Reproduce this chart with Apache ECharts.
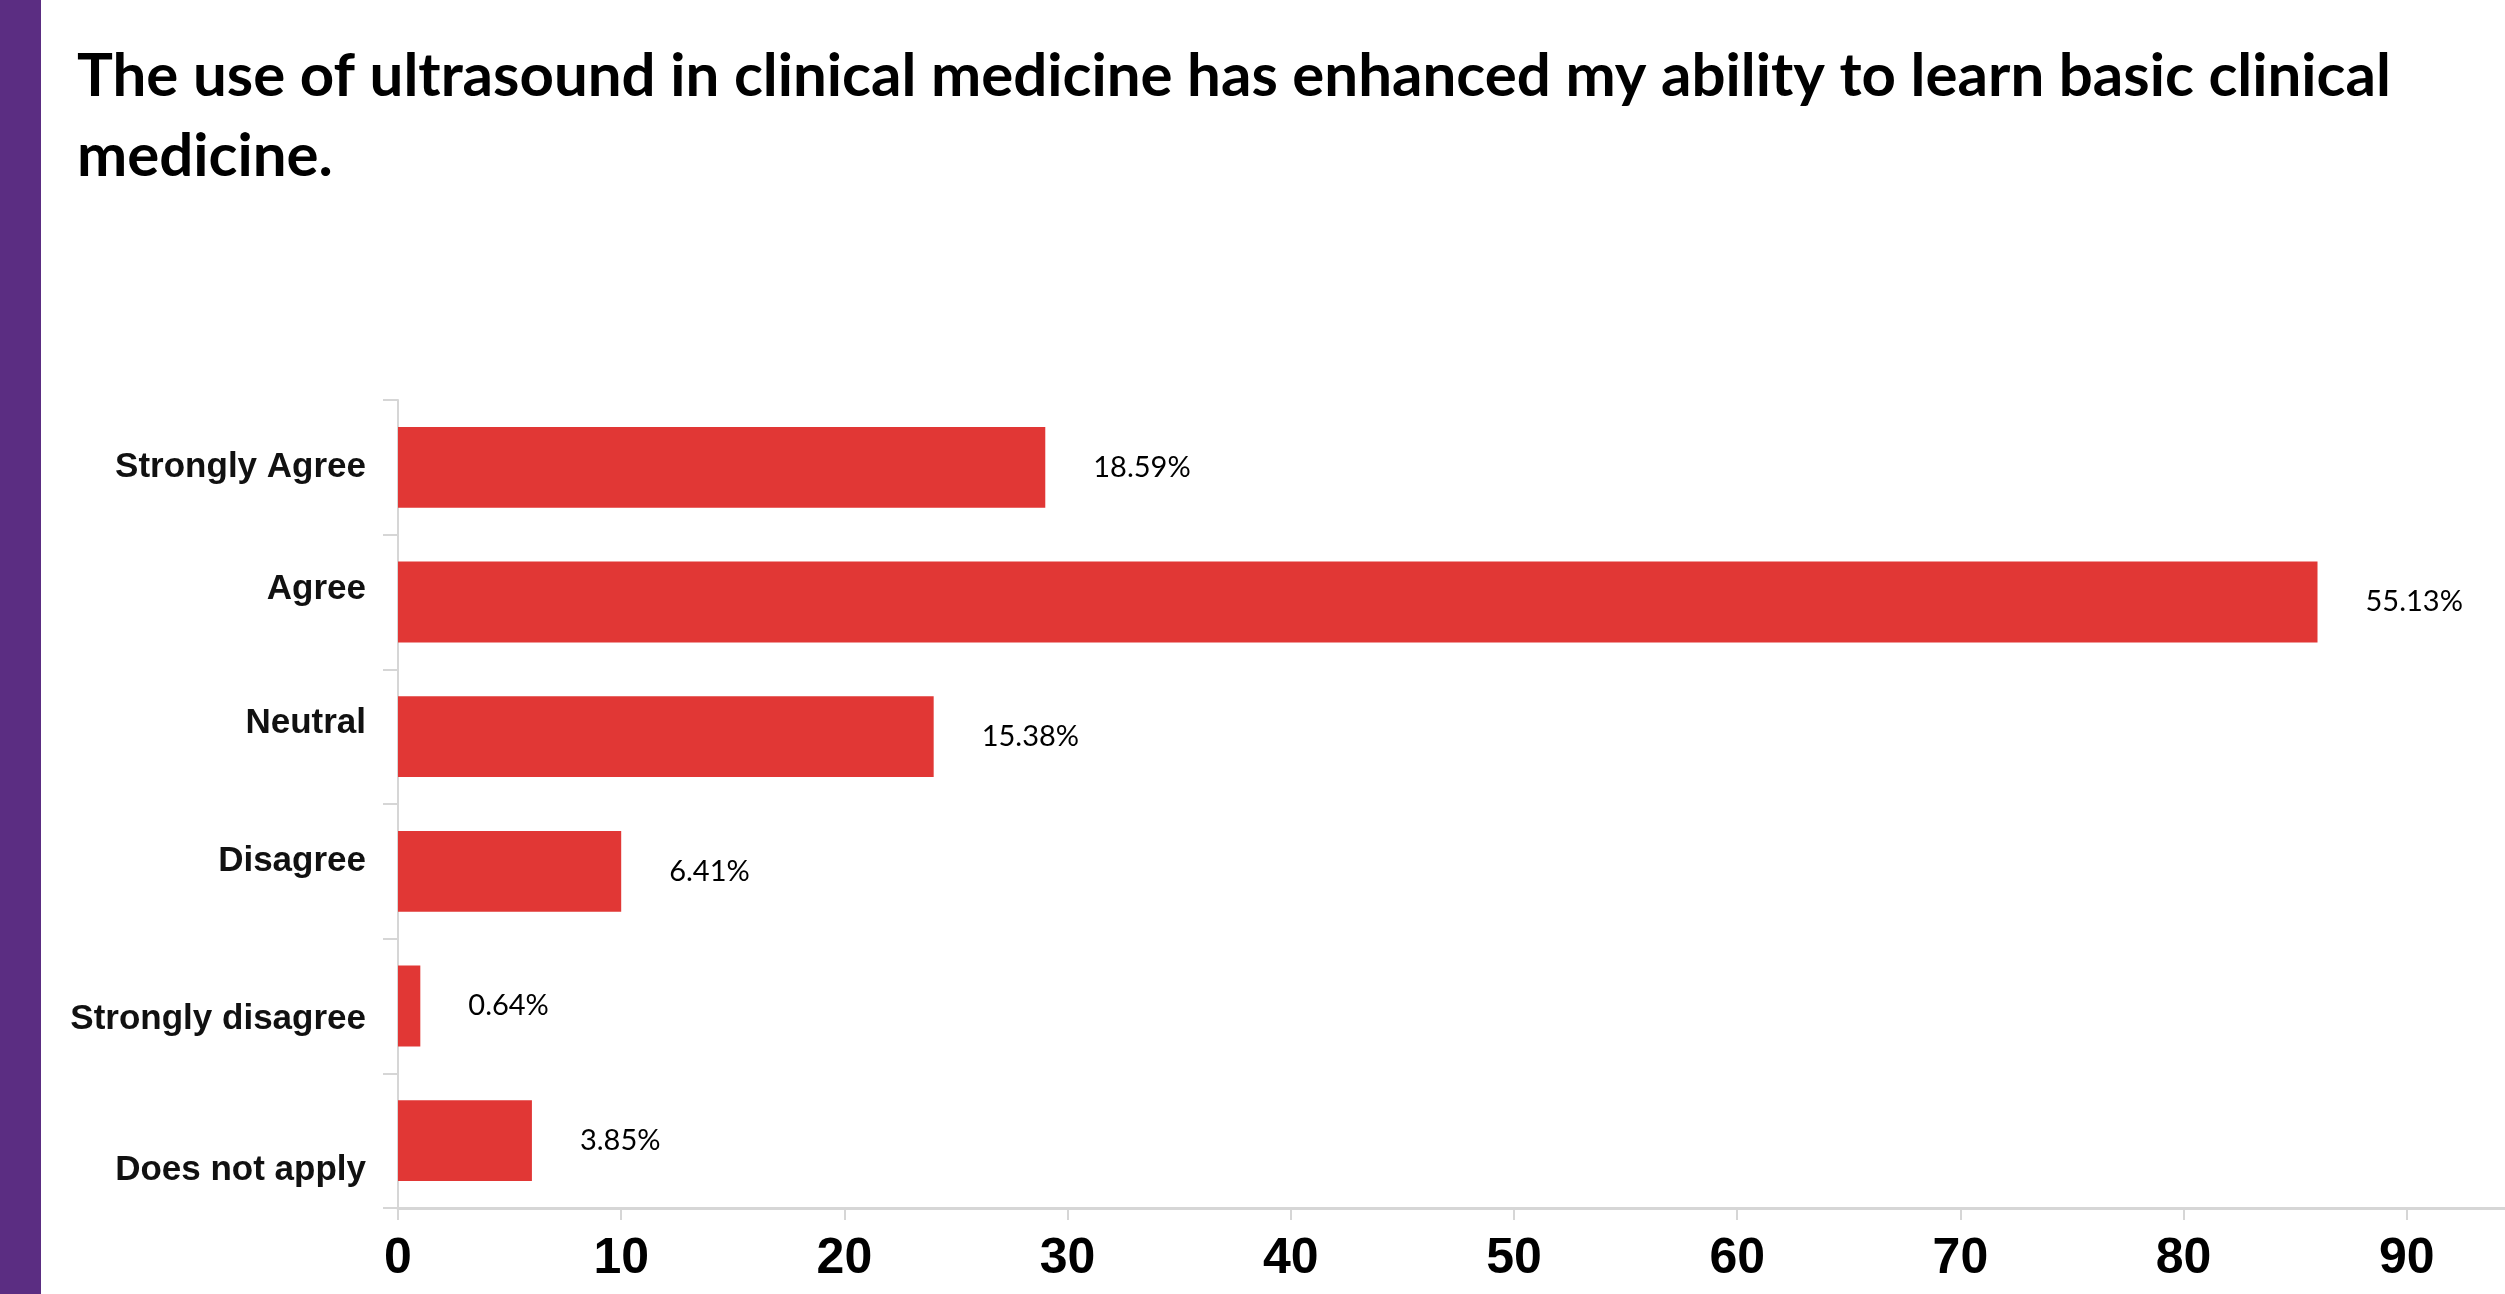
<!DOCTYPE html>
<html>
<head>
<meta charset="utf-8">
<title>Ultrasound in clinical medicine survey</title>
<script src="https://cdn.jsdelivr.net/npm/echarts@6/dist/echarts.min.js"></script>
<style>
  html, body { margin: 0; padding: 0; background: #ffffff; }
  #chart { width: 2505px; height: 1294px; }
</style>
</head>
<body>
<div id="chart"></div>
<script>
// Survey statement shown as the heading
const heading = 'The use of ultrasound in clinical medicine has enhanced my ability to learn basic clinical\nmedicine.';

// Response options, top to bottom
const responses = ['Strongly Agree', 'Agree', 'Neutral', 'Disagree', 'Strongly disagree', 'Does not apply'];

// Number of respondents per option (156 in total)
const counts = [29, 86, 24, 10, 1, 6];

// Share of respondents printed next to each bar
const shares = ['18.59%', '55.13%', '15.38%', '6.41%', '0.64%', '3.85%'];

// Count axis ticks
const countTicks = [0, 10, 20, 30, 40, 50, 60, 70, 80, 90];

// Vertical nudge (px, + is down) of each response label from its row centre
const labelNudge = [0, -13, -13, -10, 13, 30];

const chart = echarts.init(document.getElementById('chart'), null, { renderer: 'canvas' });

const gridColor = '#d6d6d6';

// One rich style per response label so each can sit at its own height
const responseLabelFont = {
  color: '#111111',
  fontFamily: "'Liberation Sans', Arial, sans-serif",
  fontWeight: 'bold',
  fontSize: 35
};
const responseRich = {};
labelNudge.forEach(function (d, i) {
  responseRich['r' + i] = Object.assign({}, responseLabelFont, {
    padding: d >= 0 ? [2 * d, 0, 0, 0] : [0, 0, -2 * d, 0]
  });
});

chart.setOption({
  backgroundColor: '#ffffff',
  animation: false,
  graphic: [{
    type: 'rect',
    left: 0,
    top: 0,
    shape: { width: 41, height: 1294 },
    style: { fill: '#5b2d82' },
    silent: true
  }],
  title: {
    text: heading,
    left: 77,
    top: 37,
    padding: 0,
    textStyle: {
      fontFamily: 'Lato',
      fontWeight: 'bold',
      fontSize: 60,
      lineHeight: 80,
      color: '#000000'
    }
  },
  grid: {
    left: 398,
    right: 0,
    top: 400,
    bottom: 86,
    containLabel: false
  },
  xAxis: {
    type: 'value',
    min: countTicks[0],
    max: 94.4,
    interval: countTicks[1] - countTicks[0],
    splitLine: { show: false },
    axisLine: { show: true, lineStyle: { color: gridColor, width: 3 } },
    axisTick: { show: true, length: 12, lineStyle: { color: gridColor, width: 2 } },
    axisLabel: {
      showMaxLabel: false,
      margin: 26,
      color: '#000000',
      fontFamily: "'Liberation Sans', Arial, sans-serif",
      fontWeight: 'bold',
      fontSize: 50,
      formatter: function (v) { return countTicks.indexOf(v) >= 0 ? String(v) : ''; }
    }
  },
  yAxis: {
    type: 'category',
    inverse: true,
    data: responses,
    axisLine: { show: true, lineStyle: { color: gridColor, width: 2 } },
    axisTick: { show: true, length: 15, lineStyle: { color: gridColor, width: 2 } },
    axisLabel: {
      margin: 32,
      color: '#111111',
      fontFamily: "'Liberation Sans', Arial, sans-serif",
      fontWeight: 'bold',
      fontSize: 35,
      formatter: function (value) {
        return '{r' + responses.indexOf(value) + '|' + value + '}';
      },
      rich: responseRich
    }
  },
  series: [{
    type: 'bar',
    data: counts,
    barWidth: '60%',
    itemStyle: { color: '#e13735' },
    label: {
      show: true,
      position: 'right',
      distance: 48,
      color: '#000000',
      fontFamily: 'Lato',
      fontSize: 29,
      formatter: function (p) { return shares[p.dataIndex]; }
    }
  }]
});
</script>
</body>
</html>
